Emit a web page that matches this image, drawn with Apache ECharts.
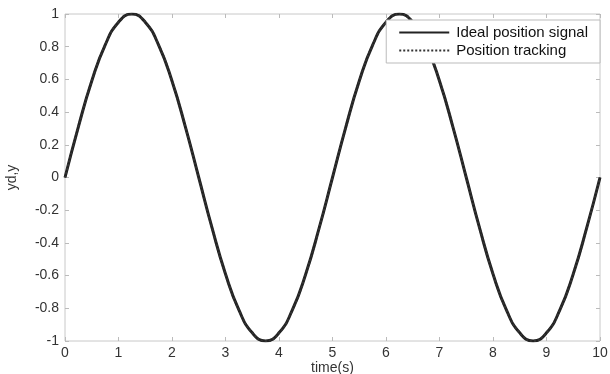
<!DOCTYPE html>
<html>
<head>
<meta charset="utf-8">
<script src="https://cdn.jsdelivr.net/npm/echarts@6/dist/echarts.min.js"></script>
<style>
  html, body { margin: 0; padding: 0; background: #fff; }
  #main { width: 610px; height: 374px; }
</style>
</head>
<body>
<div id="main"></div>
<script>
// time (s), every 0.25 s
var timeS = [0, 0.25, 0.5, 0.75, 1, 1.25, 1.5, 1.75, 2, 2.25, 2.5, 2.75, 3, 3.25, 3.5, 3.75, 4, 4.25, 4.5, 4.75,
  5, 5.25, 5.5, 5.75, 6, 6.25, 6.5, 6.75, 7, 7.25, 7.5, 7.75, 8, 8.25, 8.5, 8.75, 9, 9.25, 9.5, 9.75, 10];
// values
var idealPos = [0, 0.31, 0.59, 0.81, 0.95, 1, 0.95, 0.81, 0.59, 0.31, 0, -0.31, -0.59, -0.81, -0.95, -1, -0.95, -0.81, -0.59, -0.31,
  0, 0.31, 0.59, 0.81, 0.95, 1, 0.95, 0.81, 0.59, 0.31, 0, -0.31, -0.59, -0.81, -0.95, -1, -0.95, -0.81, -0.59, -0.31, 0];
var trackPos = [0, 0.31, 0.59, 0.81, 0.95, 1, 0.95, 0.81, 0.59, 0.31, 0, -0.31, -0.59, -0.81, -0.95, -1, -0.95, -0.81, -0.59, -0.31,
  0, 0.31, 0.59, 0.81, 0.95, 1, 0.95, 0.81, 0.59, 0.31, 0, -0.31, -0.59, -0.81, -0.95, -1, -0.95, -0.81, -0.59, -0.31, 0];
var seriesNames = ['Ideal position signal', 'Position tracking'];

var pairs = function(xs, ys) {
  var out = [];
  for (var i = 0; i < xs.length; i++) out.push([xs[i], ys[i]]);
  return out;
};

var myChart = echarts.init(document.getElementById('main'));
var axisFont = { color: '#333', fontSize: 14, fontFamily: 'Liberation Sans, Arial, sans-serif' };
var tickStyle = { show: true, inside: true, length: 4, lineStyle: { color: '#bbb' } };

var option = {
  animation: false,
  backgroundColor: '#fff',
  grid: { left: 65, right: 10, top: 14, bottom: 33, outerBoundsMode: 'none', show: true, borderColor: '#c8c8c8', borderWidth: 1 },
  legend: {
    orient: 'vertical',
    right: 10,
    top: 20,
    itemWidth: 50,
    itemHeight: 10,
    itemGap: 3,
    padding: [5, 12, 5, 12],
    borderColor: '#bbb',
    borderWidth: 1,
    backgroundColor: '#fff',
    itemStyle: { opacity: 0 },
    textStyle: { color: '#111', fontSize: 15, fontFamily: 'Liberation Sans, Arial, sans-serif', padding: [0, 0, 0, 2] },
    data: seriesNames
  },
  xAxis: [{
    type: 'value',
    min: 0, max: 10, interval: 1,
    name: 'time(s)',
    nameLocation: 'middle',
    nameGap: 20,
    nameMoveOverlap: false,
    nameTextStyle: axisFont,
    axisLine: { show: false, onZero: false },
    axisTick: tickStyle,
    axisLabel: Object.assign({ margin: 5 }, axisFont),
    splitLine: { show: false }
  }, {
    type: 'value', position: 'top',
    min: 0, max: 10, interval: 1,
    axisLine: { show: false, onZero: false },
    axisTick: tickStyle,
    axisLabel: { show: false },
    splitLine: { show: false }
  }],
  yAxis: [{
    type: 'value',
    min: -1, max: 1, interval: 0.2,
    name: 'yd,y',
    nameLocation: 'middle',
    nameGap: 46,
    nameMoveOverlap: false,
    nameTextStyle: axisFont,
    axisLine: { show: false, onZero: false },
    axisTick: tickStyle,
    axisLabel: Object.assign({ margin: 6, formatter: function(v) { return +v.toFixed(1); } }, axisFont),
    splitLine: { show: false }
  }, {
    type: 'value', position: 'right',
    min: -1, max: 1, interval: 0.2,
    axisLine: { show: false, onZero: false },
    axisTick: tickStyle,
    axisLabel: { show: false },
    splitLine: { show: false }
  }],
  series: [
    {
      name: seriesNames[0],
      type: 'line',
      smooth: true,
      symbol: 'none',
      data: pairs(timeS, idealPos),
      lineStyle: { color: '#222', width: 3 },
      itemStyle: { color: '#222' }
    },
    {
      name: seriesNames[1],
      type: 'line',
      smooth: true,
      symbol: 'none',
      data: pairs(timeS, trackPos),
      lineStyle: { color: '#333', width: 2, type: 'dotted' },
      itemStyle: { color: '#333' }
    }
  ]
};
myChart.setOption(option);
</script>
</body>
</html>
